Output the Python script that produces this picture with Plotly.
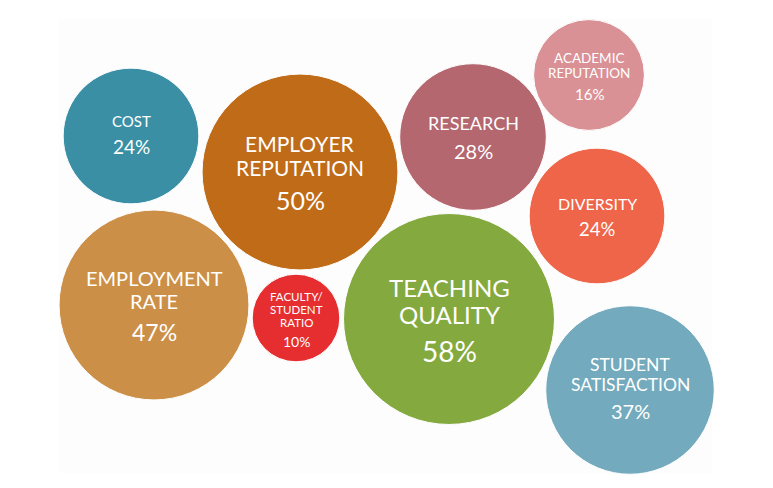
import plotly.graph_objects as go

# ---- data ----
labels = ["COST", "EMPLOYER<br>REPUTATION", "RESEARCH", "ACADEMIC<br>REPUTATION", "DIVERSITY",
          "EMPLOYMENT<br>RATE", "FACULTY/<br>STUDENT<br>RATIO", "TEACHING<br>QUALITY",
          "STUDENT<br>SATISFACTION"]
values = [24, 50, 28, 16, 24, 47, 10, 58, 37]

# ---- layout (bubble placement in pixel space) and styles ----
cx = [131, 300, 473, 589, 597, 154, 296, 449, 630]
cy = [136, 172, 137, 75, 216, 305, 318, 319, 390]
colors = ["#3A8FA5", "#C06B17", "#B4676E", "#DA9195", "#EF6549",
          "#CC8F48", "#E62E31", "#84AA3F", "#74AABD"]
label_sizes = [15, 21, 18, 13.5, 16, 20, 11.5, 24, 17.5]
value_sizes = [19, 25, 20, 15, 18.5, 23, 14, 28, 20]
text_nudge = [-2, 0, 0, 1, 0, 0, 1, 0, -2]

W, H = 773, 488
px_per_sqrt = 13.85  # radius in px per sqrt(value)

fig = go.Figure()
fig.add_trace(go.Scatter(
    x=cx, y=cy, mode="markers",
    marker=dict(size=values, sizemode="area", sizeref=1 / (2 * px_per_sqrt ** 2),
                color=colors, opacity=1, line=dict(width=1, color="white")),
    hoverinfo="text", text=[l.replace("<br>", " ") + f" {v}%" for l, v in zip(labels, values)],
))

annotations = []
font_family = "Lato, 'Open Sans', sans-serif"
for lab, v, x, y, ls, vs, dy in zip(labels, values, cx, cy, label_sizes, value_sizes, text_nudge):
    lines = lab.split("<br>")
    n = len(lines)
    lh = 1.12 * ls
    gap = 0.65 * (ls + vs) + 3
    span = (n - 1) * lh + gap
    first = y + dy - span / 2
    for i, line in enumerate(lines):
        annotations.append(dict(x=x, y=first + i * lh, text=line, showarrow=False,
                                xanchor="center", yanchor="middle",
                                font=dict(family=font_family, size=ls, color="white")))
    annotations.append(dict(x=x, y=first + (n - 1) * lh + gap, text=f"{v}%", showarrow=False,
                            xanchor="center", yanchor="middle",
                            font=dict(family=font_family, size=vs, color="white")))

fig.update_layout(
    width=W, height=H, margin=dict(l=0, r=0, t=0, b=0),
    paper_bgcolor="white", plot_bgcolor="white",
    xaxis=dict(range=[0, W], visible=False, fixedrange=True),
    yaxis=dict(range=[H, 0], visible=False, fixedrange=True),
    showlegend=False, annotations=annotations,
    shapes=[dict(type="rect", xref="x", yref="y", x0=59, x1=712, y0=19, y1=473,
                 fillcolor="#FDFDFD", line=dict(width=0), layer="below")],
)

fig.write_html("out.html", config={"displayModeBar": False},
               post_script="document.body.style.margin='0';document.body.style.overflow='hidden';")
